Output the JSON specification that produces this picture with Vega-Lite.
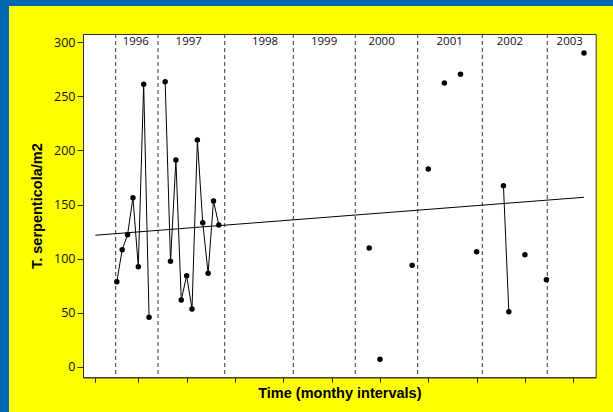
{
  "$schema": "https://vega.github.io/schema/vega-lite/v6.json",
  "background": "#FFFF00",
  "padding": 0,
  "datasets": {
    "samples": [
      {"month": 6, "density": 78.6, "run": "r1996"},
      {"month": 7, "density": 108.2, "run": "r1996"},
      {"month": 8, "density": 122.1, "run": "r1996"},
      {"month": 9, "density": 156.3, "run": "r1996"},
      {"month": 10, "density": 92.5, "run": "r1996"},
      {"month": 11, "density": 261.2, "run": "r1996"},
      {"month": 12, "density": 45.7, "run": "r1996"},
      {"month": 15, "density": 263.6, "run": "r1997"},
      {"month": 16, "density": 97.5, "run": "r1997"},
      {"month": 17, "density": 191.2, "run": "r1997"},
      {"month": 18, "density": 61.7, "run": "r1997"},
      {"month": 19, "density": 84.2, "run": "r1997"},
      {"month": 20, "density": 53.4, "run": "r1997"},
      {"month": 21, "density": 209.7, "run": "r1997"},
      {"month": 22, "density": 133.2, "run": "r1997"},
      {"month": 23, "density": 86.4, "run": "r1997"},
      {"month": 24, "density": 153.3, "run": "r1997"},
      {"month": 25, "density": 131.1, "run": "r1997"},
      {"month": 53, "density": 109.8, "run": "s53"},
      {"month": 55, "density": 6.8, "run": "s55"},
      {"month": 61, "density": 93.8, "run": "s61"},
      {"month": 64, "density": 182.9, "run": "s64"},
      {"month": 67, "density": 262.4, "run": "s67"},
      {"month": 70, "density": 270.5, "run": "s70"},
      {"month": 73, "density": 106.4, "run": "s73"},
      {"month": 78, "density": 167.4, "run": "r2002"},
      {"month": 79, "density": 50.9, "run": "r2002"},
      {"month": 82, "density": 103.6, "run": "s82"},
      {"month": 86, "density": 80.5, "run": "s86"},
      {"month": 93, "density": 290.2, "run": "s93"}
    ],
    "trend": [
      {"month": 2, "density": 121.6},
      {"month": 93, "density": 156.7}
    ],
    "years": [
      {"year": "1996", "start": 5.79, "label_at": 9.53},
      {"year": "1997", "start": 13.67, "label_at": 19.39},
      {"year": "1998", "start": 26.09, "label_at": 33.6},
      {"year": "1999", "start": 38.86, "label_at": 44.6},
      {"year": "2000", "start": 50.41, "label_at": 55.3},
      {"year": "2001", "start": 62.03, "label_at": 67.99},
      {"year": "2002", "start": 74.06, "label_at": 79.2},
      {"year": "2003", "start": 86.16, "label_at": 90.35}
    ]
  },
  "config": {
    "view": {"stroke": null},
    "axis": {
      "grid": false,
      "domainColor": "#333333",
      "tickColor": "#333333",
      "labelColor": "#111111",
      "titleColor": "#000000",
      "labelFont": "Open Sans",
      "labelFontSize": 12.5,
      "titleFont": "Liberation Sans",
      "titleFontSize": 14.5,
      "titleFontWeight": "bold",
      "labelPadding": 2,
      "tickSize": 6
    },
    "axisX": {"tickSize": 5, "titlePadding": 4},
    "axisY": {"titlePadding": 9}
  },
  "vconcat": [
    {
      "width": 613,
      "height": 6,
      "view": {"fill": "#0067B2", "stroke": null},
      "data": {"values": []},
      "mark": "point"
    },
    {
      "hconcat": [
        {
          "width": 9,
          "height": 406,
          "view": {"fill": "#0067B2", "stroke": null},
          "data": {"values": []},
          "mark": "point"
        },
        {
          "vconcat": [
            {
              "width": 1,
              "height": 1,
              "view": {"fill": null, "stroke": null},
              "data": {"values": []},
              "mark": "point"
            },
            {
              "width": 512.7,
              "height": 343.3,
              "view": {"fill": "#FFFFFF", "stroke": "#333333", "strokeWidth": 1},
              "layer": [
                {
                  "data": {"name": "years"},
                  "mark": {"type": "rule", "strokeDash": [4, 3], "color": "#333333", "strokeWidth": 1},
                  "encoding": {
                    "x": {"field": "start", "type": "quantitative", "scale": {"domain": [-0.3, 95.18], "nice": false, "zero": false}, "axis": {"title": "Time (monthy intervals)", "values": [2, 10, 19, 28, 37, 46, 55, 64, 73, 82, 91], "labels": false}}
                  }
                },
                {
                  "data": {"name": "trend"},
                  "mark": {"type": "line", "color": "#000000", "strokeWidth": 1},
                  "encoding": {
                    "x": {"field": "month", "type": "quantitative", "scale": {"domain": [-0.3, 95.18], "nice": false, "zero": false}, "axis": {"title": "Time (monthy intervals)", "values": [2, 10, 19, 28, 37, 46, 55, 64, 73, 82, 91], "labels": false}},
                    "y": {"field": "density", "type": "quantitative", "scale": {"domain": [-9.8, 307.7], "nice": false, "zero": false}, "axis": {"title": "T. serpenticola/m2", "values": [0, 50, 100, 150, 200, 250, 300]}}
                  }
                },
                {
                  "data": {"name": "samples"},
                  "mark": {"type": "line", "color": "#000000", "strokeWidth": 1},
                  "encoding": {
                    "x": {"field": "month", "type": "quantitative", "scale": {"domain": [-0.3, 95.18], "nice": false, "zero": false}, "axis": {"title": "Time (monthy intervals)", "values": [2, 10, 19, 28, 37, 46, 55, 64, 73, 82, 91], "labels": false}},
                    "y": {"field": "density", "type": "quantitative", "scale": {"domain": [-9.8, 307.7], "nice": false, "zero": false}, "axis": {"title": "T. serpenticola/m2", "values": [0, 50, 100, 150, 200, 250, 300]}},
                    "detail": {"field": "run", "type": "nominal"}
                  }
                },
                {
                  "data": {"name": "samples"},
                  "mark": {"type": "circle", "size": 30, "color": "#000000", "opacity": 1},
                  "encoding": {
                    "x": {"field": "month", "type": "quantitative", "scale": {"domain": [-0.3, 95.18], "nice": false, "zero": false}, "axis": {"title": "Time (monthy intervals)", "values": [2, 10, 19, 28, 37, 46, 55, 64, 73, 82, 91], "labels": false}},
                    "y": {"field": "density", "type": "quantitative", "scale": {"domain": [-9.8, 307.7], "nice": false, "zero": false}, "axis": {"title": "T. serpenticola/m2", "values": [0, 50, 100, 150, 200, 250, 300]}}
                  }
                },
                {
                  "data": {"name": "years"},
                  "mark": {"type": "text", "font": "Open Sans", "fontSize": 11.5, "color": "#111111", "baseline": "middle", "align": "center"},
                  "encoding": {
                    "x": {"field": "label_at", "type": "quantitative", "scale": {"domain": [-0.3, 95.18], "nice": false, "zero": false}, "axis": {"title": "Time (monthy intervals)", "values": [2, 10, 19, 28, 37, 46, 55, 64, 73, 82, 91], "labels": false}},
                    "y": {"datum": 300, "type": "quantitative", "scale": {"domain": [-9.8, 307.7], "nice": false, "zero": false}, "axis": {"title": "T. serpenticola/m2", "values": [0, 50, 100, 150, 200, 250, 300]}},
                    "text": {"field": "year", "type": "nominal"}
                  }
                }
              ]
            }
          ],
          "spacing": 27,
          "bounds": "flush"
        }
      ],
      "spacing": 74,
      "bounds": "flush"
    }
  ],
  "spacing": 0,
  "bounds": "flush"
}
